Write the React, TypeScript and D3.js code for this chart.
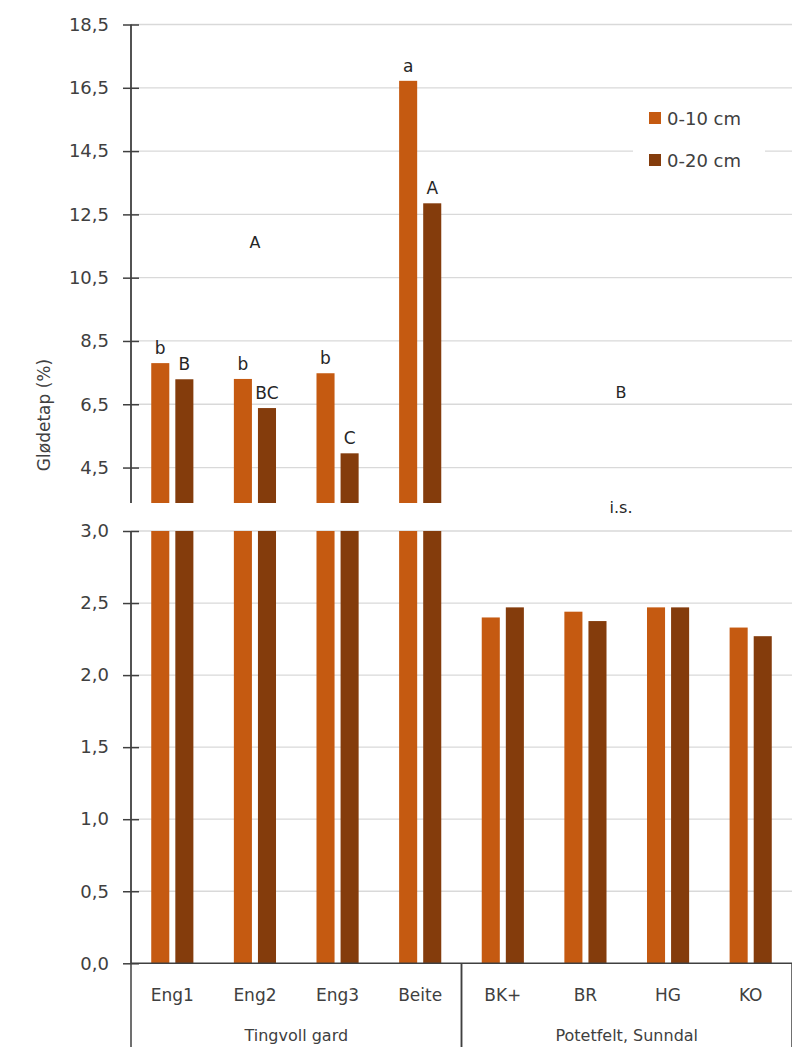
import * as d3 from 'd3';
import React, { useEffect, useRef } from 'react';

const categories = ['Eng1', 'Eng2', 'Eng3', 'Beite', 'BK+', 'BR', 'HG', 'KO'];
const groupNames = ['Tingvoll gard', 'Potetfelt, Sunndal'];
const groupSizes = [4, 4];
const seriesNames = ['0-10 cm', '0-20 cm'];
const values010 = [7.8, 7.3, 7.48, 16.72, 2.4, 2.44, 2.47, 2.33];
const values020 = [7.29, 6.38, 4.95, 12.85, 2.47, 2.375, 2.47, 2.27];
const letters010 = ['b', 'b', 'b', 'a', '', '', '', ''];
const letters020 = ['B', 'BC', 'C', 'A', '', '', '', ''];
const upperTicks = [4.5, 6.5, 8.5, 10.5, 12.5, 14.5, 16.5, 18.5];
const lowerTicks = [0, 0.5, 1.0, 1.5, 2.0, 2.5, 3.0];

const colors = ['#c55a11', '#843c0c'];
const FONT = '"DejaVu Sans", sans-serif';

const W = 792;
const H = 1047;

const App = () => {
  const ref = useRef<SVGSVGElement | null>(null);

  useEffect(() => {
    if (!ref.current) return;
    const svg = d3.select(ref.current);
    svg.selectAll('*').remove();

    const left = 131;
    const right = 792;
    const upperTop = 24.5;
    const upperBottom = 503;
    const lowerTop = 531;
    const lowerBottom = 963.3;
    const breakLow = 3.38;

    const x = d3.scaleBand().domain(categories).range([left, right]).paddingInner(0.49).paddingOuter(0.245);
    const xs = d3.scaleBand().domain(seriesNames).range([0, x.bandwidth()]).paddingInner(0.25);
    const yUp = d3.scaleLinear().domain([breakLow, 18.5]).range([upperBottom, upperTop]);
    const yLo = d3.scaleLinear().domain([0, 3]).range([lowerBottom, lowerTop]);
    const fmt = (d) => d3.format('.1f')(d).replace('.', ',');

    // gridlines
    const grid = svg.append('g');
    upperTicks.forEach((t) => {
      grid.append('line').attr('x1', left).attr('x2', right).attr('y1', yUp(t)).attr('y2', yUp(t)).attr('stroke', '#d9d9d9').attr('stroke-width', 1.3);
    });
    lowerTicks.filter((t) => t > 0).forEach((t) => {
      grid.append('line').attr('x1', left).attr('x2', right).attr('y1', yLo(t)).attr('y2', yLo(t)).attr('stroke', '#d9d9d9').attr('stroke-width', 1.3);
    });

    // bars
    const seriesVals = [values010, values020];
    const seriesLetters = [letters010, letters020];
    const bars = svg.append('g');
    seriesNames.forEach((s, si) => {
      categories.forEach((c, ci) => {
        const v = seriesVals[si][ci];
        const bx = (x(c) as number) + (xs(s) as number);
        const bw = xs.bandwidth();
        const lo = Math.min(v, 3);
        bars.append('rect').attr('x', bx).attr('width', bw).attr('y', yLo(lo)).attr('height', yLo(0) - yLo(lo)).attr('fill', colors[si]);
        if (v > breakLow) {
          bars.append('rect').attr('x', bx).attr('width', bw).attr('y', yUp(v)).attr('height', yUp(breakLow) - yUp(v)).attr('fill', colors[si]);
        }
        const letter = seriesLetters[si][ci];
        if (letter) {
          bars
            .append('text')
            .attr('x', bx + bw / 2)
            .attr('y', (v > 3 ? yUp(v) : yLo(v)) - 9)
            .attr('text-anchor', 'middle')
            .style('font-family', FONT)
            .style('font-size', '17px')
            .attr('fill', '#262626')
            .text(letter);
        }
      });
    });

    // y axes
    const styleAxis = (ax) => {
      ax.select('.domain').remove();
      ax.selectAll('.tick line').attr('x1', 8).attr('stroke', '#404040').attr('stroke-width', 1.5);
      ax.selectAll('.tick text').style('font-family', FONT).style('font-size', '18px').attr('fill', '#404040');
    };
    const axUp = svg.append('g').attr('transform', `translate(${left},0)`).call(d3.axisLeft(yUp).tickValues(upperTicks).tickFormat(fmt).tickSize(8).tickPadding(14));
    styleAxis(axUp);
    const axLo = svg.append('g').attr('transform', `translate(${left},0)`).call(d3.axisLeft(yLo).tickValues(lowerTicks).tickFormat(fmt).tickSize(8).tickPadding(14));
    styleAxis(axLo);
    svg.append('line').attr('x1', left).attr('x2', left).attr('y1', upperTop).attr('y2', upperBottom).attr('stroke', '#404040').attr('stroke-width', 1.8);
    svg.append('line').attr('x1', left).attr('x2', left).attr('y1', lowerTop).attr('y2', lowerBottom).attr('stroke', '#404040').attr('stroke-width', 1.8);

    // x axis
    svg.append('line').attr('x1', left).attr('x2', right).attr('y1', lowerBottom).attr('y2', lowerBottom).attr('stroke', '#404040').attr('stroke-width', 1.5);
    categories.forEach((c) => {
      svg
        .append('text')
        .attr('x', (x(c) as number) + x.bandwidth() / 2)
        .attr('y', 1001)
        .attr('text-anchor', 'middle')
        .style('font-family', FONT)
        .style('font-size', '17px')
        .attr('fill', '#404040')
        .text(c);
    });
    let start = 0;
    groupNames.forEach((g, gi) => {
      const x0 = gi === 0 ? left : (x(categories[start]) as number) - (x.step() * x.paddingInner()) / 2;
      const end = start + groupSizes[gi] - 1;
      const x1 = gi === groupNames.length - 1 ? right : (x(categories[end]) as number) + x.bandwidth() + (x.step() * x.paddingInner()) / 2;
      svg.append('line').attr('x1', x0).attr('x2', x0).attr('y1', lowerBottom).attr('y2', H).attr('stroke', '#404040').attr('stroke-width', 1.5);
      svg.append('line').attr('x1', x1).attr('x2', x1).attr('y1', lowerBottom).attr('y2', H).attr('stroke', '#404040').attr('stroke-width', 1.5);
      svg
        .append('text')
        .attr('x', (x0 + x1) / 2)
        .attr('y', 1041)
        .attr('text-anchor', 'middle')
        .style('font-family', FONT)
        .style('font-size', '16px')
        .attr('fill', '#404040')
        .text(g);
      start = end + 1;
    });

    // y title
    svg
      .append('text')
      .attr('transform', 'translate(50,415) rotate(-90)')
      .attr('text-anchor', 'middle')
      .style('font-family', FONT)
      .style('font-size', '17px')
      .attr('fill', '#404040')
      .text('Glødetap (%)');

    // group annotations
    const ann = [
      { t: 'A', x: (x('Eng2') as number) + x.bandwidth() / 2, y: yUp(11.45) },
      { t: 'B', x: 621, y: yUp(6.7) },
      { t: 'i.s.', x: 621, y: 513 },
    ];
    ann.forEach((a) => {
      svg.append('text').attr('x', a.x).attr('y', a.y).attr('text-anchor', 'middle').style('font-family', FONT).style('font-size', '16px').attr('fill', '#262626').text(a.t);
    });

    // legend
    const lg = svg.append('g');
    lg.append('rect').attr('x', 633).attr('y', 100).attr('width', 132).attr('height', 75).attr('fill', '#fff');
    seriesNames.forEach((s, i) => {
      const cy = 118 + i * 42;
      lg.append('rect').attr('x', 649).attr('y', cy - 6).attr('width', 12).attr('height', 12).attr('fill', colors[i]);
      lg.append('text').attr('x', 667).attr('y', cy + 6.5).style('font-family', FONT).style('font-size', '18px').attr('fill', '#404040').text(s);
    });
  }, []);

  return <svg ref={ref} width={W} height={H} style={{ position: 'absolute', left: 0, top: 0, background: '#fff' }} />;
};

export default App;
